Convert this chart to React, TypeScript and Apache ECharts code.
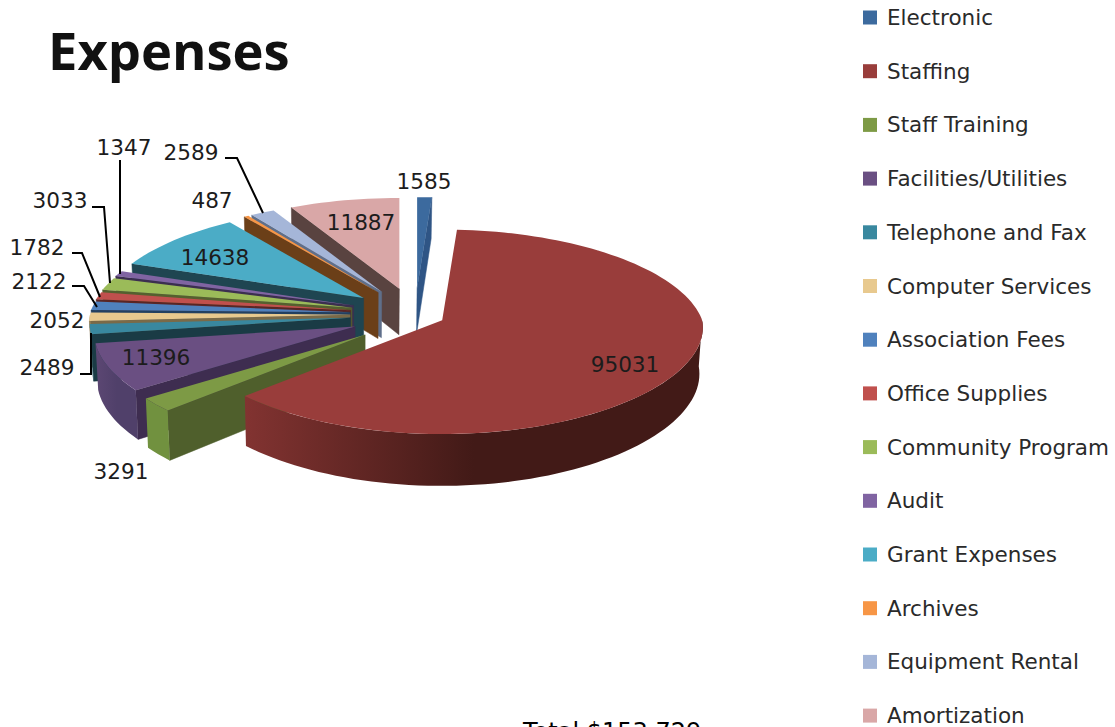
import React, { useEffect, useRef } from "react";
import * as echarts from "echarts";

const categories = ["Electronic","Staffing","Staff Training","Facilities/Utilities","Telephone and Fax","Computer Services","Association Fees","Office Supplies","Community Program","Audit","Grant Expenses","Archives","Equipment Rental","Amortization"];
const values = [1585,95031,3291,11396,2489,2052,2122,1782,3033,1347,14638,487,2589,11887];
const topColors = ["#3c6a9e","#993d3b","#7d9a45","#6a4f82","#39889f","#e8c98e","#4f81bd","#c0504d","#9bbb59","#8064a2","#4bacc6","#f79646","#a5b6d8","#d9a7a7"];
const wallColors = ["#2f5585","#5a2220","#4f5f2c","#3e2d50","#1a3b45","#7a6a48","#234060","#5a2625","#55602f","#3c2f50","#1f4551","#6b3f18","#5f6f8a","#594340"];
const rimColors = [["#2f5585","#2f5585"],["#823331","#421a17"],["#71913f","#71913f"],["#5c4773","#50406a"],["#1f5566","#1f5566"],["#a08a60","#a08a60"],["#2d5580","#2d5580"],["#7a3230","#7a3230"],["#6a8040","#6a8040"],["#54426c","#54426c"],["#2a6a7c","#2a6a7c"],["#a06028","#a06028"],["#6f7f9a","#6f7f9a"],["#8a6a6a","#8a6a6a"]];
const explode = [65,30,65,65,65,65,65,65,65,65,65,65,65,65];
const paintOrder = [13,0,12,11,10,9,8,7,6,5,4,3,2,1];

const labelPlaces = [[424,181],[625,364],[121,471],[156,357],[47,367],[57,320],[39,281],[37,247],[60,200],[124,147],[215,257],[212,200],[191,152],[361,222]];
const leaders = [
  [[225,158],[237,158],[263,213]],
  [[120,160],[120,274]],
  [[92,207],[104,207],[110,283]],
  [[72,253],[82,253],[100,297]],
  [[72,286],[84,286],[97,307]],
  [[80,374],[91,374],[91,333]],
];

const CX = 415, CY = 314, A = 260, B = 101, K = 0.112, H = 46;
const total = values.reduce((a, b) => a + b, 0);
const rad = (d: number) => (d * Math.PI) / 180;

function sliceAngles(i: number) {
  let sum = 0;
  for (let j = 0; j < i; j++) sum += values[j];
  return [(sum / total) * 360, ((sum + values[i]) / total) * 360];
}

function makeItem(i: number) {
  return (_p: any, api: any) => {
    const [a0] = sliceAngles(i);
    const a1 = a0 + (api.value(0) / total) * 360;
    const mid = (a0 + a1) / 2;
    const cm = Math.cos(rad(mid));
    const tx = CX + explode[i] * Math.sin(rad(mid));
    const ty = CY - explode[i] * (cm < 0 ? 0.5 : 0.4) * cm;
    const top = (d: number) => {
      const c = Math.cos(rad(d));
      const s = 1 / (1 + K * c);
      const sx = 1 / (1 + (c > 0 ? 0.14 : 0.07) * c);
      return [tx + A * Math.sin(rad(d)) * sx, ty - B * c * s];
    };
    const low = (p: number[], d: number | null) => {
      const s = d === null ? 1 : 1 / (1 + K * Math.cos(rad(d)));
      return [360 + (p[0] - 360) * 0.99, p[1] + H * s];
    };
    const arc: number[][] = [];
    const n = Math.max(2, Math.ceil((a1 - a0) / 2));
    for (let k = 0; k <= n; k++) arc.push(top(a0 + ((a1 - a0) * k) / n));
    const tip = [tx, ty];
    const children: any[] = [];
    const face = (d: number) => ({
      type: "polygon",
      shape: { points: [tip, top(d), low(top(d), d), low(tip, null)] },
      style: { fill: wallColors[i], stroke: wallColors[i], lineWidth: 0.5 },
    });
    if (Math.sin(rad(a0)) < 0) children.push(face(a0));
    if (Math.sin(rad(a1)) > 0) children.push(face(a1));
    const r0 = Math.max(a0, 90), r1 = Math.min(a1, 270);
    if (r1 > r0) {
      const pts: number[][] = [];
      const m = Math.max(2, Math.ceil((r1 - r0) / 2));
      for (let k = 0; k <= m; k++) pts.push(top(r0 + ((r1 - r0) * k) / m));
      const bottom = pts.map((p, k) => low(p, r0 + ((r1 - r0) * k) / m)).reverse();
      children.push({
        type: "polygon",
        shape: { points: pts.concat(bottom) },
        style: {
          fill: new echarts.graphic.LinearGradient(0, 0, 1, 0, [
            { offset: 0, color: rimColors[i][0] },
            { offset: 0.5, color: rimColors[i][1] },
            { offset: 1, color: rimColors[i][1] },
          ]),
        },
      });
    }
    children.push({
      type: "polygon",
      shape: { points: [tip, ...arc] },
      style: { fill: topColors[i] },
    });
    return { type: "group", children };
  };
}

export default function App() {
  const ref = useRef<HTMLDivElement>(null);
  useEffect(() => {
    const chart = echarts.init(ref.current!, null, { renderer: "svg" });
    const textFont = "21.6px 'DejaVu Sans'";
    const option: any = {
      animation: false,
      backgroundColor: "#ffffff",
      title: {
        text: "Expenses",
        left: 48,
        top: 23,
        padding: 0,
        textStyle: { fontFamily: "Open Sans", fontWeight: "bold", fontSize: 52.5, color: "#111111" },
      },
      legend: {
        orient: "vertical",
        left: 863,
        top: 6.5,
        height: 760,
        padding: 0,
        itemWidth: 14,
        itemHeight: 14,
        itemGap: 31.7,
        icon: "rect",
        selectedMode: false,
        data: categories,
        textStyle: { fontFamily: "DejaVu Sans", fontSize: 21.5, lineHeight: 22, color: "#2a2a2a", padding: [0, 0, 0, 5] },
      },
      series: categories.map((name, i) => ({
        type: "custom",
        name,
        coordinateSystem: "none",
        silent: true,
        z: 2 + paintOrder.indexOf(i),
        itemStyle: { color: topColors[i] },
        data: [[values[i]]],
        renderItem: makeItem(i),
      })),
      graphic: [
        ...values.map((v, i) => ({
          type: "text",
          z: 100,
          x: labelPlaces[i][0],
          y: labelPlaces[i][1],
          style: { text: String(v), font: textFont, fill: "#1c1c1c", align: "center", verticalAlign: "middle" },
        })),
        ...leaders.map((pts) => ({
          type: "polyline",
          z: 100,
          shape: { points: pts },
          style: { stroke: "#000000", lineWidth: 2, fill: "none" },
        })),
        {
          type: "text",
          z: 100,
          x: 523,
          y: 744,
          style: { text: "Total $153,729", font: "24px 'DejaVu Sans'", fill: "#000000", align: "left", verticalAlign: "bottom" },
        },
      ],
    };
    chart.setOption(option);
    return () => chart.dispose();
  }, []);
  return <div ref={ref} style={{ position: "fixed", left: 0, top: 0, width: 1115, height: 727, overflow: "hidden" }} />;
}
